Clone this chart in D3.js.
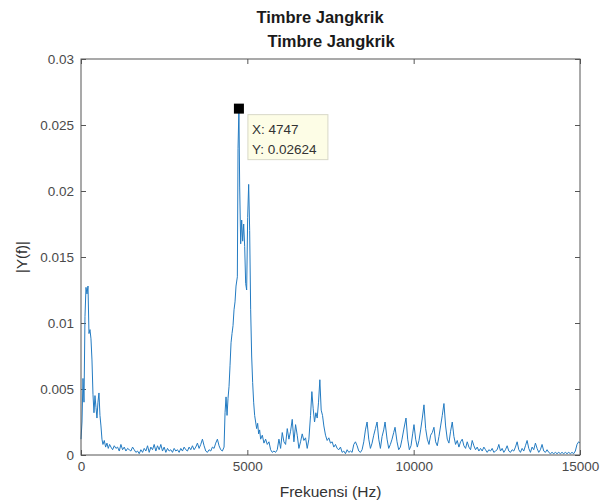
<!DOCTYPE html>
<html>
<head>
<meta charset="utf-8">
<script src="https://cdn.jsdelivr.net/npm/d3@7"></script>
<style>
  body { margin: 0; background: #fff; }
  svg text { font-family: "Liberation Sans", Arial, sans-serif; }
</style>
</head>
<body>
<div id="chart"></div>
<script>
// spectrum: frequency (Hz) and |Y(f)|
const freqHz = [
  0, 30, 60, 90, 120, 150, 180, 210, 240, 270, 300, 330, 360, 390, 420, 450, 480, 510, 540, 570,
  600, 630, 660, 700, 740, 780, 820, 860, 900, 950, 1000, 1050, 1100, 1150, 1200, 1250, 1300, 1350, 1400, 1450,
  1500, 1550, 1600, 1650, 1700, 1750, 1800, 1850, 1900, 1950, 2000, 2050, 2100, 2150, 2200, 2250, 2300, 2350, 2400, 2450,
  2500, 2550, 2600, 2650, 2700, 2750, 2800, 2850, 2900, 2950, 3000, 3050, 3100, 3150, 3200, 3250, 3300, 3350, 3400, 3450,
  3500, 3550, 3600, 3650, 3700, 3750, 3800, 3850, 3900, 3950, 4000, 4050, 4100, 4150, 4200, 4250, 4300, 4330, 4360, 4390,
  4420, 4450, 4480, 4510, 4540, 4570, 4600, 4630, 4660, 4700, 4720, 4747, 4770, 4800, 4830, 4860, 4890, 4920, 4950, 4980,
  5010, 5040, 5070, 5100, 5130, 5160, 5190, 5220, 5250, 5280, 5310, 5340, 5370, 5400, 5450, 5500, 5550, 5600, 5650, 5700,
  5750, 5800, 5850, 5900, 5950, 6000, 6050, 6100, 6150, 6200, 6250, 6300, 6350, 6400, 6450, 6500, 6550, 6600, 6650, 6700,
  6750, 6800, 6850, 6900, 6940, 6980, 7020, 7060, 7100, 7140, 7180, 7220, 7260, 7300, 7350, 7400, 7450, 7500, 7550, 7600,
  7650, 7700, 7750, 7800, 7850, 7900, 7950, 8000, 8050, 8100, 8150, 8200, 8250, 8300, 8350, 8400, 8450, 8500, 8550, 8600,
  8650, 8700, 8750, 8800, 8850, 8900, 8950, 9000, 9050, 9100, 9140, 9200, 9250, 9300, 9350, 9400, 9440, 9500, 9550, 9600,
  9650, 9700, 9770, 9820, 9870, 9920, 9970, 10010, 10060, 10110, 10160, 10210, 10260, 10310, 10360, 10410, 10460, 10510, 10560, 10610,
  10660, 10710, 10760, 10810, 10860, 10910, 10960, 11010, 11060, 11110, 11160, 11210, 11260, 11310, 11360, 11410, 11460, 11510, 11560, 11610,
  11660, 11710, 11760, 11810, 11860, 11910, 11960, 12010, 12060, 12110, 12160, 12210, 12260, 12310, 12360, 12410, 12460, 12510, 12560, 12610,
  12660, 12710, 12760, 12810, 12860, 12910, 12960, 13010, 13060, 13110, 13160, 13210, 13260, 13310, 13360, 13410, 13460, 13510, 13560, 13610,
  13660, 13710, 13760, 13810, 13860, 13910, 13960, 14010, 14060, 14110, 14160, 14210, 14260, 14310, 14360, 14410, 14460, 14510, 14560, 14610,
  14660, 14710, 14760, 14810, 14860, 14910, 14960, 15000
];
const magnitude = [
  0.0012, 0.0025, 0.0058, 0.0040, 0.0105, 0.0127, 0.0122, 0.0128, 0.0092, 0.0095, 0.0088, 0.0072, 0.0046, 0.0032, 0.0045, 0.0036, 0.0028, 0.0040, 0.0047, 0.0030,
  0.0022, 0.0012, 0.0008, 0.0011, 0.0006, 0.0009, 0.0005, 0.0008, 0.0006, 0.0004, 0.0007, 0.0005, 0.0006, 0.0003, 0.0008, 0.0004, 0.0006, 0.0003, 0.0005, 0.0004,
  0.0003, 0.0006, 0.0004, 0.0002, 0.0003, 0.0001, 0.0004, 0.0002, 0.0005, 0.0003, 0.0007, 0.0002, 0.0006, 0.0004, 0.0008, 0.0003, 0.0007, 0.0004, 0.0008, 0.0003,
  0.0006, 0.0002, 0.0005, 0.0003, 0.0004, 0.0002, 0.0005, 0.0003, 0.0004, 0.0002, 0.0005, 0.0003, 0.0006, 0.0004, 0.0003, 0.0006, 0.0004, 0.0007, 0.0004, 0.0006,
  0.0009, 0.0005, 0.0008, 0.0012, 0.0007, 0.0003, 0.0002, 0.0004, 0.0003, 0.0006, 0.0005, 0.0009, 0.0012, 0.0007, 0.0004, 0.0003, 0.0006, 0.0032, 0.0044, 0.0030,
  0.0043, 0.0052, 0.0068, 0.0085, 0.0092, 0.0098, 0.0110, 0.0116, 0.0128, 0.0135, 0.0232, 0.02624, 0.0203, 0.0160, 0.0178, 0.0162, 0.0175, 0.0158, 0.0130, 0.0125,
  0.0180, 0.0205, 0.0170, 0.0110, 0.0075, 0.0055, 0.0040, 0.0030, 0.0025, 0.0020, 0.0024, 0.0016, 0.0019, 0.0012, 0.0015, 0.0009, 0.0012, 0.0008, 0.0010, 0.0004,
  0.0002, 0.0003, 0.0002, 0.0004, 0.0012, 0.0005, 0.0017, 0.0010, 0.0008, 0.0020, 0.0012, 0.0018, 0.0027, 0.0010, 0.0023, 0.0015, 0.0005, 0.0010, 0.0016, 0.0011,
  0.0013, 0.0005, 0.0012, 0.0030, 0.0048, 0.0035, 0.0025, 0.0032, 0.0028, 0.0040, 0.0057, 0.0034, 0.0030, 0.0022, 0.0015, 0.0011, 0.0013, 0.0009, 0.0010, 0.0006,
  0.0008, 0.0005, 0.0004, 0.0006, 0.0002, 0.0003, 0.0001, 0.0004, 0.0002, 0.0003, 0.0002, 0.0008, 0.0010, 0.0007, 0.0003, 0.0002, 0.0004, 0.0010, 0.0019, 0.0025,
  0.0012, 0.0005, 0.0009, 0.0015, 0.0020, 0.0025, 0.0012, 0.0005, 0.0014, 0.0019, 0.0025, 0.0012, 0.0005, 0.0008, 0.0012, 0.0017, 0.0021, 0.0010, 0.0004, 0.0006,
  0.0012, 0.0019, 0.0028, 0.0012, 0.0004, 0.0007, 0.0016, 0.0023, 0.0012, 0.0006, 0.0011, 0.0019, 0.0028, 0.0038, 0.0020, 0.0012, 0.0008, 0.0015, 0.0017, 0.0021,
  0.0010, 0.0007, 0.0014, 0.0022, 0.0030, 0.0039, 0.0022, 0.0012, 0.0009, 0.0018, 0.0025, 0.0014, 0.0008, 0.0011, 0.0006, 0.0010, 0.0012, 0.0007, 0.0005, 0.0010,
  0.0006, 0.0004, 0.0011, 0.0007, 0.0004, 0.0006, 0.0003, 0.0005, 0.0003, 0.0006, 0.0004, 0.0002, 0.0004, 0.0003, 0.0005, 0.0002, 0.0003, 0.0004, 0.0008, 0.0003,
  0.0005, 0.0002, 0.0004, 0.0007, 0.0003, 0.0002, 0.0004, 0.0003, 0.0006, 0.0010, 0.0004, 0.0002, 0.0005, 0.0003, 0.0007, 0.0011, 0.0005, 0.0002, 0.0006, 0.0004,
  0.0009, 0.0005, 0.0002, 0.0004, 0.0008, 0.0003, 0.0002, 0.0004, 0.0002, 0.0001, 0.0002, 0.0001, 0.0002, 0.0001, 0.0002, 0.0001, 0.0002, 0.0001, 0.0002, 0.0001,
  0.0002, 0.0001, 0.0002, 0.0001, 0.0003, 0.0008, 0.0010, 0.0009
];
const xTicks = [0, 5000, 10000, 15000];
const yTicks = [0, 0.005, 0.01, 0.015, 0.02, 0.025, 0.03];
const peak = { x: 4747, y: 0.02624 };

const data = freqHz.map((f, i) => ({ f: f, m: magnitude[i] }));

const W = 615, H = 502;
const margin = { top: 59, right: 35, bottom: 47, left: 81 },
  width = W - margin.left - margin.right,
  height = H - margin.top - margin.bottom;

const svg = d3.select("#chart")
  .append("svg")
  .attr("width", W)
  .attr("height", H);

// the two titles
svg.append("text")
  .attr("x", 320).attr("y", 23)
  .attr("text-anchor", "middle")
  .style("font-size", "16.5px").style("font-weight", "bold").attr("fill", "#1a1a1a")
  .text("Timbre Jangkrik");
svg.append("text")
  .attr("x", 331).attr("y", 47)
  .attr("text-anchor", "middle")
  .style("font-size", "16.5px").style("font-weight", "bold").attr("fill", "#1a1a1a")
  .text("Timbre Jangkrik");

const g = svg.append("g")
  .attr("transform", `translate(${margin.left},${margin.top})`);

const x = d3.scaleLinear().domain([0, 15000]).range([0, width]);
const y = d3.scaleLinear().domain([0, 0.03]).range([height, 0]);

const axisColor = "#555";
function styleAxis(sel, showText) {
  sel.select(".domain").remove();
  sel.selectAll(".tick line").attr("stroke", axisColor);
  sel.selectAll(".tick text")
    .attr("fill", "#4a4a4a")
    .style("font-size", "13.5px")
    .style("display", showText ? null : "none");
}

// bottom / left with labels, top / right ticks only (inward)
g.append("g").attr("transform", `translate(0,${height})`)
  .call(d3.axisBottom(x).tickValues(xTicks).tickSizeInner(-5).tickPadding(6).tickFormat(d3.format("d")))
  .call(s => styleAxis(s, true));
g.append("g")
  .call(d3.axisLeft(y).tickValues(yTicks).tickSizeInner(-5).tickPadding(7).tickFormat(d => d === 0 ? "0" : d3.format("")(+d.toFixed(3))))
  .call(s => styleAxis(s, true));
g.append("g")
  .call(d3.axisTop(x).tickValues(xTicks).tickSizeInner(-5))
  .call(s => styleAxis(s, false));
g.append("g").attr("transform", `translate(${width},0)`)
  .call(d3.axisRight(y).tickValues(yTicks).tickSizeInner(-5))
  .call(s => styleAxis(s, false));

// spectrum line
const line = d3.line().x(d => x(d.f)).y(d => y(d.m));
g.append("path")
  .datum(data)
  .attr("fill", "none")
  .attr("stroke", "#237bc2")
  .attr("stroke-width", 1)
  .attr("stroke-linejoin", "round")
  .attr("d", line);

// axes box
g.append("rect")
  .attr("width", width).attr("height", height)
  .attr("fill", "none").attr("stroke", axisColor).attr("stroke-width", 1);

// data tip
const px = x(peak.x), py = y(peak.y);
g.append("rect")
  .attr("x", px - 5).attr("y", py - 5)
  .attr("width", 10).attr("height", 10)
  .attr("fill", "#000");
const tip = g.append("g").attr("transform", `translate(${px + 9},${py + 6})`);
tip.append("rect")
  .attr("width", 80).attr("height", 45)
  .attr("fill", "#fdfde6").attr("stroke", "#d8d8c8");
tip.append("text").attr("x", 4).attr("y", 19)
  .style("font-size", "13.5px").attr("fill", "#333")
  .text(`X: ${peak.x}`);
tip.append("text").attr("x", 4).attr("y", 39)
  .style("font-size", "13.5px").attr("fill", "#333")
  .text(`Y: ${peak.y}`);

// axis labels
svg.append("text")
  .attr("x", margin.left + width / 2).attr("y", 497)
  .attr("text-anchor", "middle")
  .style("font-size", "15.5px").attr("fill", "#333")
  .text("Frekuensi (Hz)");
svg.append("text")
  .attr("transform", `translate(27,${margin.top + height / 2}) rotate(-90)`)
  .attr("text-anchor", "middle")
  .style("font-size", "15px").attr("fill", "#333")
  .text("|Y(f)|");
</script>
</body>
</html>
